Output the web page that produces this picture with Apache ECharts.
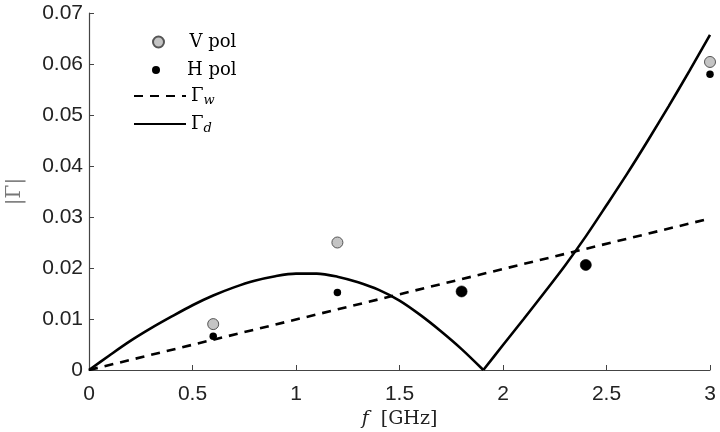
<!DOCTYPE html>
<html>
<head>
<meta charset="utf-8">
<script src="https://cdn.jsdelivr.net/npm/echarts@6/dist/echarts.min.js"></script>
<style>
  html, body { margin: 0; padding: 0; background: #fff; }
  #main { width: 720px; height: 432px; }
</style>
</head>
<body>
<div id="main"></div>
<script>
// reflection magnitude vs frequency
var freqLeft  = [0, 0.1, 0.2, 0.3, 0.4, 0.5, 0.6, 0.7, 0.8, 0.9, 1.0, 1.1, 1.2, 1.3, 1.4, 1.5, 1.6, 1.7, 1.8, 1.905];
var gammaLeft = [0, 0.0029, 0.0057, 0.0082, 0.0105, 0.0127, 0.0146, 0.0162, 0.0175, 0.0184, 0.0189, 0.0189, 0.0183, 0.0172, 0.0157, 0.0136, 0.0108, 0.0076, 0.0041, 0];
var freqRight  = [1.905, 2.0, 2.1, 2.2, 2.3, 2.4, 2.5, 2.6, 2.7, 2.8, 2.9, 3.0];
var gammaRight = [0, 0.0049, 0.0100, 0.0152, 0.0205, 0.0262, 0.0323, 0.0385, 0.0450, 0.0517, 0.0586, 0.0657];
var freqW  = [0, 3];
var gammaW = [0, 0.0297];
var measFreq = [0.6, 1.2, 1.8, 2.4, 3.0];
var vPol = [0.0090, 0.0250, 0.0154, 0.0206, 0.0604];
var hPol = [0.0066, 0.0152, 0.0154, 0.0206, 0.0580];
var xTicks = { min: 0, max: 3, step: 0.5 };
var yTicks = { min: 0, max: 0.07, step: 0.01 };

function pairs(xs, ys) {
	return xs.map(function (x, i) { return [x, ys[i]]; });
}

var serif = 'DejaVu Serif';
var sans = 'Liberation Sans';
var rich = {
	g: { fontFamily: serif, fontSize: 18, lineHeight: 22, color: '#000' },
	s: { fontFamily: serif, fontSize: 13, fontStyle: 'italic', lineHeight: 12, verticalAlign: 'bottom', color: '#000' }
};

function legendAt(name, left, top, h, isLine) {
	var item = { name: name };
	if (isLine) {
		// hide the marker that line legends draw in the middle
		item.itemStyle = { color: 'rgba(0,0,0,0)', borderColor: 'rgba(0,0,0,0)', borderWidth: 0 };
	}
	return {
		data: [item], left: left, top: top, orient: 'vertical',
		itemWidth: 52, itemHeight: h, itemGap: 0, padding: 0,
		selectedMode: false,
		textStyle: { fontFamily: serif, fontSize: 18, color: '#000', rich: rich },
		formatter: function (n) {
			if (n === 'Γw') return '{g|Γ}{s|w}';
			if (n === 'Γd') return '{g|Γ}{s|d}';
			return n;
		}
	};
}

var myChart = echarts.init(document.getElementById('main'));
var lineD = { color: '#000', width: 2.6, type: 'solid' };

var option = {
	animation: false,
	backgroundColor: '#fff',
	grid: { left: 89, right: 10, top: 13, bottom: 62, outerBoundsMode: 'none' },
	legend: [
		legendAt('V pol', 152, 33, 11, false),
		legendAt('H pol', 152, 61, 8, false),
		legendAt('Γw', 133, 87, 14, true),
		legendAt('Γd', 133, 115, 14, true)
	],
	xAxis: {
		type: 'value', min: xTicks.min, max: xTicks.max, interval: xTicks.step,
		name: '{i|f}  [GHz]', nameLocation: 'middle', nameGap: 40,
		nameTextStyle: {
			fontFamily: serif, fontSize: 19, color: '#222',
			rich: { i: { fontFamily: serif, fontSize: 19, fontStyle: 'italic', color: '#222' } }
		},
		axisLine: { lineStyle: { color: '#444', width: 1.2 } },
		axisTick: { inside: true, length: 5, lineStyle: { color: '#444' } },
		axisLabel: { fontFamily: sans, fontSize: 21, color: '#222', margin: 14 },
		splitLine: { show: false }
	},
	yAxis: {
		type: 'value', min: yTicks.min, max: yTicks.max, interval: yTicks.step,
		name: '|Γ|', nameLocation: 'middle', nameGap: 64, nameRotate: 90,
		nameTextStyle: { fontFamily: serif, fontSize: 20, color: '#777' },
		axisLine: { show: true, lineStyle: { color: '#444', width: 1.2 } },
		axisTick: { show: true, inside: true, length: 5, lineStyle: { color: '#444' } },
		axisLabel: {
			fontFamily: sans, fontSize: 21, color: '#222', margin: 6,
			formatter: function (v) { return v === 0 ? '0' : v.toFixed(2); }
		},
		splitLine: { show: false }
	},
	series: [
		{
			name: 'Γw', type: 'line', data: pairs(freqW, gammaW),
			showSymbol: false, symbol: 'none',
			lineStyle: { color: '#000', width: 2.6, type: [9, 7] },
			itemStyle: { color: '#000' }, z: 2
		},
		{
			name: 'Γd', type: 'line', data: pairs(freqLeft, gammaLeft),
			showSymbol: false, symbol: 'none', smooth: 0.3,
			lineStyle: lineD, itemStyle: { color: '#000' }, z: 2
		},
		{
			name: 'Γd', type: 'line', data: pairs(freqRight, gammaRight),
			showSymbol: false, symbol: 'none', smooth: 0.3,
			lineStyle: lineD, itemStyle: { color: '#000' }, z: 2
		},
		{
			name: 'V pol', type: 'scatter', data: pairs(measFreq, vPol),
			symbol: 'circle', symbolSize: 11,
			itemStyle: { color: '#c4c4c4', borderColor: '#555', borderWidth: 1, opacity: 1 }, z: 3
		},
		{
			name: 'H pol', type: 'scatter', data: pairs(measFreq, hPol),
			symbol: 'circle',
			// where both polarisations coincide the black dot covers the grey one
			symbolSize: function (val, p) {
				return Math.abs(vPol[p.dataIndex] - val[1]) < 0.0005 ? 11 : 7.5;
			},
			itemStyle: { color: '#000', opacity: 1 }, z: 4
		}
	]
};

myChart.setOption(option);
</script>
</body>
</html>
